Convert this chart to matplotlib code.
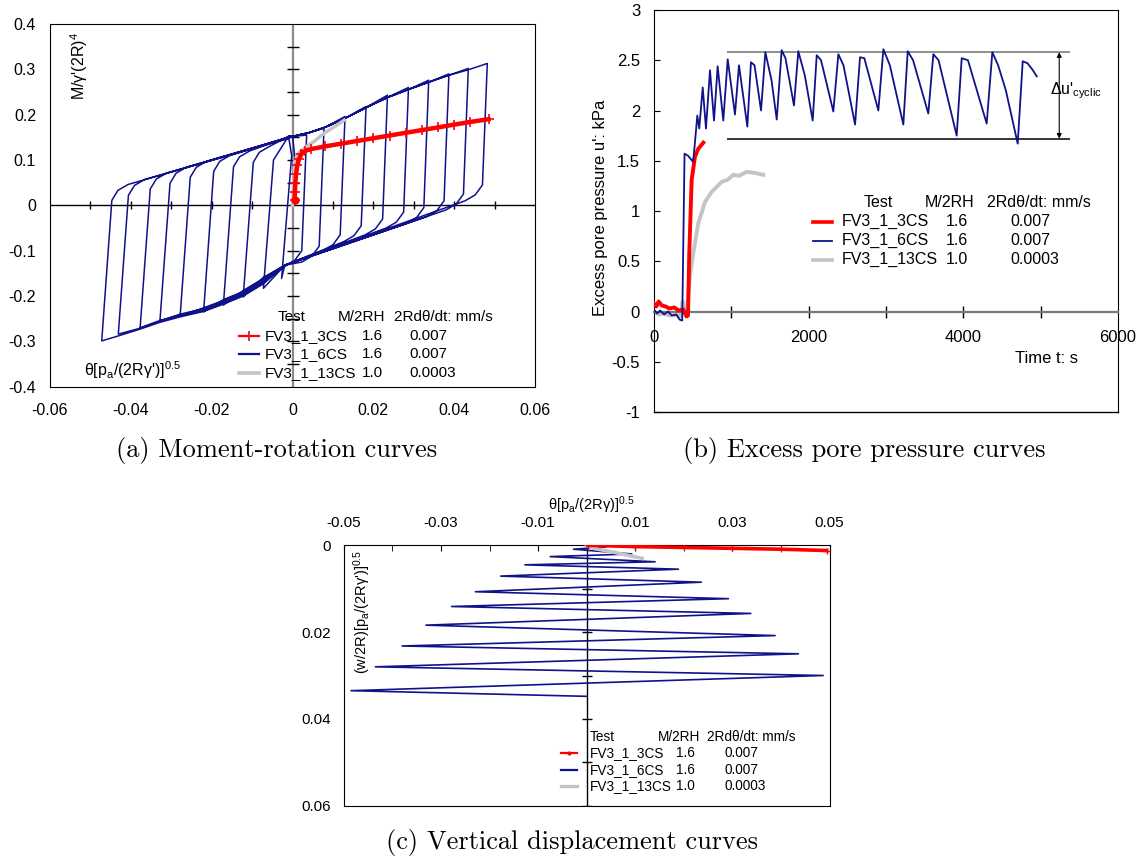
import matplotlib
matplotlib.use('Agg')
import matplotlib.pyplot as plt
from matplotlib.lines import Line2D
from matplotlib.ticker import FuncFormatter

plt.rcParams['font.family'] = ['Liberation Sans', 'DejaVu Sans']
plt.rcParams['mathtext.fontset'] = 'custom'
plt.rcParams['mathtext.rm'] = 'Liberation Sans'
plt.rcParams['axes.unicode_minus'] = False

BLUE = '#10128a'
RED = '#ff0000'
GREY = '#c4c4c4'

# ---------------- (a) moment-rotation, FV3_1_6CS cyclic loops
# right-hand reversal of each cycle
pos_theta = [0.0035, 0.0078, 0.0130, 0.0182, 0.0235, 0.0287, 0.0337, 0.0387, 0.0435, 0.0482]
pos_top = [0.155, 0.170, 0.196, 0.218, 0.243, 0.260, 0.276, 0.290, 0.302, 0.313]
pos_knee = [-0.100, -0.090, -0.065, -0.045, -0.030, -0.015, -0.005, 0.010, 0.025, 0.045]
# left-hand reversal of each cycle
neg_theta = [-0.0027, -0.0072, -0.0122, -0.0171, -0.0220, -0.0278, -0.0328, -0.0377, -0.0431, -0.0472]
neg_bot = [-0.161, -0.183, -0.202, -0.220, -0.235, -0.244, -0.255, -0.270, -0.284, -0.299]
neg_knee = [0.110, 0.100, 0.095, 0.085, 0.075, 0.062, 0.049, 0.036, 0.022, 0.011]
bundle_shift = [0.010, 0.008, 0.006, 0.004, 0.002, 0.0, -0.002, -0.004, -0.006, -0.008]
# common upper (theta>0) and lower (theta<0) paths
upper_env_theta = [0.0, 0.004, 0.008, 0.013, 0.018, 0.0235, 0.0288, 0.0338, 0.0387, 0.0435]
upper_env_M = [0.152, 0.160, 0.172, 0.192, 0.215, 0.238, 0.256, 0.272, 0.287, 0.299]
lower_env_theta = [-0.0072, -0.0122, -0.0171, -0.0220, -0.0278, -0.0328, -0.0377, -0.0431]
lower_env_M = [-0.165, -0.192, -0.210, -0.226, -0.238, -0.250, -0.265, -0.280]
low_cross = (-0.0019, -0.132)
up_cross = (-0.0010, 0.150)

# monotonic tests
red_a_theta = [0.0005, 0.0006, 0.0007, 0.0009, 0.0012, 0.0016, 0.0022, 0.0030, 0.0045, 0.008,
               0.012, 0.016, 0.020, 0.024, 0.028, 0.032, 0.036, 0.040, 0.044, 0.0485]
red_a_M = [0.012, 0.030, 0.050, 0.070, 0.088, 0.102, 0.113, 0.120, 0.124, 0.130,
           0.136, 0.142, 0.148, 0.154, 0.160, 0.166, 0.172, 0.178, 0.184, 0.190]
grey_a_theta = [0.0, 0.0003, 0.0006, 0.0015, 0.0030, 0.0052, 0.0080, 0.0110, 0.0128]
grey_a_M = [0.0, 0.050, 0.100, 0.115, 0.127, 0.140, 0.160, 0.177, 0.188]

# ---------------- (b) excess pore pressure
blue_t = [0, 40, 80, 130, 180, 230, 290, 330, 365, 395, 440, 505, 520, 560, 585, 630, 672, 724,
          776, 823, 896, 953, 1047, 1099, 1207, 1254, 1300, 1384, 1440, 1520, 1587, 1651, 1700,
          1810, 1866, 1950, 2052, 2104, 2160, 2319, 2384, 2450, 2600, 2664, 2720, 2901, 2966,
          3050, 3224, 3281, 3350, 3547, 3612, 3680, 3914, 3979, 4060, 4302, 4375, 4450, 4550,
          4703, 4768, 4830, 4900, 4949]
blue_u = [0.02, -0.02, 0.01, -0.03, 0.0, -0.04, -0.03, -0.08, -0.09, 1.57, 1.55, 1.49, 1.60,
          1.95, 1.82, 2.23, 1.82, 2.40, 1.90, 2.44, 1.90, 2.51, 1.96, 2.45, 1.84, 2.48, 2.45,
          2.00, 2.58, 2.30, 1.91, 2.60, 2.52, 2.05, 2.59, 2.35, 1.90, 2.55, 2.50, 1.99, 2.56,
          2.45, 1.86, 2.53, 2.52, 2.00, 2.61, 2.45, 1.86, 2.59, 2.50, 1.97, 2.56, 2.50, 1.75,
          2.52, 2.50, 1.87, 2.58, 2.45, 2.20, 1.67, 2.49, 2.47, 2.40, 2.34]
red_t = [0, 30, 60, 100, 150, 200, 260, 320, 380, 420, 440, 456, 487, 530, 573, 638]
red_u = [0.08, 0.05, 0.10, 0.06, 0.05, 0.03, 0.04, 0.01, 0.02, -0.05, -0.04, 0.58, 1.31, 1.54,
         1.62, 1.68]
grey_t = [0, 60, 121, 200, 293, 340, 370, 395, 422, 440, 465, 508, 573, 660, 746, 875, 950,
          1026, 1100, 1198, 1300, 1414]
grey_u = [0.0, -0.03, -0.02, -0.04, -0.035, -0.05, 0.10, -0.02, -0.02, 0.15, 0.35, 0.58, 0.88,
          1.09, 1.19, 1.29, 1.31, 1.36, 1.35, 1.39, 1.38, 1.36]
cyc_levels = [2.58, 1.72]
cyc_t = [950, 5380]
cyc_arrow_t = 5240

# ---------------- (c) vertical displacement
blue_c_theta = [0.0, 0.004, -0.0027, 0.0093, -0.0075, 0.0141, -0.0127, 0.0189, -0.0177, 0.0236,
                -0.0229, 0.0292, -0.0278, 0.0338, -0.0331, 0.0388, -0.0380, 0.0436, -0.0435,
                0.0487, -0.0485, 0.0]
blue_c_w = [0.0, 0.0004, 0.0009, 0.0020, 0.0026, 0.0038, 0.0045, 0.0055, 0.0071, 0.0085, 0.0107,
            0.0123, 0.0141, 0.0157, 0.0184, 0.0208, 0.0232, 0.0250, 0.0280, 0.0300, 0.0335, 0.0348]
red_c_theta = [0.0003, 0.01, 0.02, 0.03, 0.04, 0.0494]
red_c_w = [0.0, 0.0003, 0.0005, 0.0007, 0.0009, 0.0012]
grey_c_theta = [0.0, 0.0014, 0.006, 0.0114]
grey_c_w = [0.0, 0.0007, 0.0017, 0.0030]

legend_header = ['Test', 'M/2RH', '2Rd\u03b8/dt: mm/s']
legend_rows = [['FV3_1_3CS', '1.6', '0.007'],
               ['FV3_1_6CS', '1.6', '0.007'],
               ['FV3_1_13CS', '1.0', '0.0003']]

fmt = FuncFormatter(lambda v, p: '0' if abs(v) < 1e-12 else f'{v:g}')


def loop_path():
    th, m = [0.0, 0.0008], [0.0, 0.09]
    for k in range(len(pos_theta)):
        for t, v in zip(upper_env_theta, upper_env_M):
            if t < pos_theta[k] - 0.002:
                th.append(t)
                m.append(v)
        p = pos_theta[k]
        th += [p, p - 0.0012, p - 0.003, p - 0.0055, low_cross[0]]
        m += [pos_top[k], pos_knee[k], pos_knee[k] - 0.022, pos_knee[k] - 0.035, low_cross[1]]
        s = bundle_shift[k]
        for t, v in zip(lower_env_theta, lower_env_M):
            if t > neg_theta[k] + 0.001:
                th.append(t)
                m.append(v + s)
        n = neg_theta[k]
        th += [n, n + 0.0025]
        m += [neg_bot[k], neg_knee[k]]
        if n + 0.0065 < up_cross[0] - 0.001:
            th += [n + 0.004, n + 0.0065]
            m += [neg_knee[k] + 0.022, neg_knee[k] + 0.035]
        th.append(up_cross[0])
        m.append(up_cross[1] + s * 0.3)
    return th, m


def table_legend(ax, handles, head_x, head_y, col_x, row_y, hx, size):
    for txt, x in zip(legend_header, head_x):
        ax.text(x, head_y, txt, transform=ax.transAxes, fontsize=size, ha='left', va='center')
    for row, y, h in zip(legend_rows, row_y, handles):
        ax.add_line(Line2D([hx[0], (hx[0] + hx[1]) / 2, hx[1]], [y, y, y],
                           transform=ax.transAxes, markevery=[1], **h))
        for txt, x in zip(row, col_x):
            ax.text(x, y, txt, transform=ax.transAxes, fontsize=size, ha='left', va='center')


fig = plt.figure(figsize=(11.4, 8.61), dpi=100)
W, H = 1140, 861
ax_a = fig.add_axes([50 / W, 1 - 386.7 / H, 485 / W, 362.7 / H])
ax_b = fig.add_axes([654 / W, 1 - 412 / H, 464 / W, 402 / H])
ax_c = fig.add_axes([343.8 / W, 1 - 805.7 / H, 485.7 / W, 260.4 / H])

# ---- panel (a)
ax = ax_a
ax.set_xlim(-0.06, 0.06)
ax.set_ylim(-0.4, 0.4)
ax.set_xticks([-0.06, -0.04, -0.02, 0, 0.02, 0.04, 0.06])
ax.set_yticks([-0.4, -0.3, -0.2, -0.1, 0, 0.1, 0.2, 0.3, 0.4])
ax.xaxis.set_major_formatter(fmt)
ax.yaxis.set_major_formatter(fmt)
ax.tick_params(axis='x', length=0, pad=12, labelsize=11.5)
ax.tick_params(axis='y', length=0, pad=10, labelsize=11.5)
ax.axhline(0, color='k', lw=1, zorder=1)
ax.axvline(0, color='#8a8a8a', lw=1.6, zorder=1)
ax.plot([0] * 14, [-0.35, -0.3, -0.25, -0.2, -0.15, -0.1, -0.05, 0.05, 0.1, 0.15, 0.2, 0.25, 0.3, 0.35],
        ls='none', marker='_', ms=8, mew=1, color='k', zorder=1)
ax.plot([-0.05, -0.04, -0.03, -0.02, -0.01, 0.01, 0.02, 0.03, 0.04, 0.05], [0] * 10,
        ls='none', marker='|', ms=6, mew=1, color='k', zorder=1)
lt, lm = loop_path()
ax.plot(lt, lm, color=BLUE, lw=1.1, zorder=2)
ax.plot(grey_a_theta, grey_a_M, color=GREY, lw=2.5, zorder=3)
ax.plot(red_a_theta, red_a_M, color=RED, lw=3.2, marker='+', ms=7, mew=1.2, zorder=4)
ax.plot(red_a_theta[:1], red_a_M[:1], 'o', color=RED, ms=5, zorder=4)
ax.text(0.06, 0.884, "M/\u03b3'(2R)$\\mathregular{^{4}}$",
        transform=ax.transAxes, rotation=90, fontsize=11.5, ha='center', va='center')
ax.text(0.071, 0.046, "\u03b8[p$\\mathregular{_a}$/(2R\u03b3')]$\\mathregular{^{0.5}}$",
        transform=ax.transAxes, fontsize=11.5, ha='left', va='center')
table_legend(ax,
             [dict(color=RED, lw=1.6, marker='+', ms=7, mew=1.2),
              dict(color=BLUE, lw=1.6), dict(color=GREY, lw=2.6)],
             [0.470, 0.593, 0.709], 0.193, [0.443, 0.643, 0.741], [0.141, 0.089, 0.039],
             [0.389, 0.430], 11)

# ---- panel (b)
ax = ax_b
ax.set_xlim(0, 6000)
ax.set_ylim(-1, 3)
ax.set_yticks([-1, -0.5, 0, 0.5, 1, 1.5, 2, 2.5, 3])
ax.yaxis.set_major_formatter(fmt)
ax.tick_params(axis='y', direction='in', length=4, pad=10, labelsize=12)
ax.spines['bottom'].set_position(('data', 0))
ax.spines['bottom'].set_color('#7a7a7a')
ax.spines['bottom'].set_linewidth(1.6)
ax.xaxis.remove_overlapping_locs = False
ax.set_xticks([0, 2000, 4000, 6000])
ax.set_xticks([1000, 2000, 3000, 4000, 5000], minor=True)
ax.xaxis.set_major_formatter(fmt)
ax.tick_params(axis='x', which='major', length=0, pad=13, labelsize=12)
ax.tick_params(axis='x', which='minor', direction='inout', length=8, width=1, color='k')
ax.plot([0, 1], [0, 0], transform=ax.transAxes, color='k', lw=1, clip_on=False)
ax.plot(grey_t, grey_u, color=GREY, lw=2.8, zorder=2)
ax.plot(red_t, red_u, color=RED, lw=2.8, zorder=3)
ax.plot(blue_t, blue_u, color=BLUE, lw=1.3, zorder=4)
ax.hlines(cyc_levels, cyc_t[0], cyc_t[1], colors=['#707070', 'k'], lw=1.1)
ax.annotate('', xy=(cyc_arrow_t, cyc_levels[1]), xytext=(cyc_arrow_t, cyc_levels[0]),
            arrowprops=dict(arrowstyle='<|-|>', color='k', lw=0.8, mutation_scale=7,
                            shrinkA=0, shrinkB=0))
ax.text(5120, 2.2, "\u0394u'$\\mathregular{_{cyclic}}$", fontsize=11.5, ha='left', va='center')
ax.text(-0.116, 0.507, "Excess pore pressure u': kPa", transform=ax.transAxes, rotation=90,
        fontsize=12, ha='center', va='center')
ax.text(0.846, 0.132, 'Time t: s', transform=ax.transAxes, fontsize=12, ha='center', va='center')
table_legend(ax,
             [dict(color=RED, lw=2.6), dict(color=BLUE, lw=1.3), dict(color=GREY, lw=2.6)],
             [0.452, 0.583, 0.718], 0.522, [0.404, 0.628, 0.769], [0.473, 0.426, 0.379],
             [0.342, 0.384], 11.5)

# ---- panel (c)
ax = ax_c
ax.set_xlim(-0.05, 0.05)
ax.set_ylim(0.06, 0)
ax.xaxis.tick_top()
ax.set_xticks([-0.05, -0.03, -0.01, 0.01, 0.03, 0.05])
ax.set_xticks([-0.04, -0.03, -0.02, -0.01, 0.01, 0.02, 0.03, 0.04], minor=True)
ax.xaxis.set_major_formatter(fmt)
ax.set_yticks([0, 0.02, 0.04, 0.06])
ax.yaxis.set_major_formatter(fmt)
ax.tick_params(axis='x', which='both', direction='in', length=4, pad=11, labelsize=11)
ax.tick_params(axis='y', length=0, pad=9, labelsize=11)
ax.axvline(0, color='k', lw=1, zorder=1)
ax.plot([0] * 6, [0.01, 0.02, 0.03, 0.04, 0.05, 0.06], ls='none', marker='_', ms=7, mew=1,
        color='k', zorder=1)
ax.plot(blue_c_theta, blue_c_w, color=BLUE, lw=1.2, zorder=2)
ax.plot(grey_c_theta, grey_c_w, color=GREY, lw=2.6, zorder=3)
ax.plot(red_c_theta, red_c_w, color=RED, lw=2.6, marker='+', ms=4, zorder=4)
ax.text(0.037, 0.745, "(w/2R)[p$\\mathregular{_a}$/(2R\u03b3')]$\\mathregular{^{0.5}}$",
        transform=ax.transAxes, rotation=90, fontsize=10.5, ha='center', va='center')
ax.text(0.51, 1.155, "\u03b8[p$\\mathregular{_a}$/(2R\u03b3)]$\\mathregular{^{0.5}}$",
        transform=ax.transAxes, fontsize=10.5, ha='center', va='center')
table_legend(ax,
             [dict(color=RED, lw=1.6, marker='.', ms=4), dict(color=BLUE, lw=1.6),
              dict(color=GREY, lw=2.4)],
             [0.507, 0.647, 0.748], 0.263, [0.507, 0.684, 0.783], [0.201, 0.137, 0.076],
             [0.447, 0.480], 9.8)

# captions
fig.text(277 / W, 1 - 450 / H, '(a) Moment-rotation curves', family='cmr10', fontsize=19,
         ha='center', va='center')
fig.text(864 / W, 1 - 450 / H, '(b) Excess pore pressure curves', family='cmr10', fontsize=19,
         ha='center', va='center')
fig.text(572 / W, 1 - 843 / H, '(c) Vertical displacement curves', family='cmr10', fontsize=19,
         ha='center', va='center')

fig.savefig('out.png', dpi=100)
